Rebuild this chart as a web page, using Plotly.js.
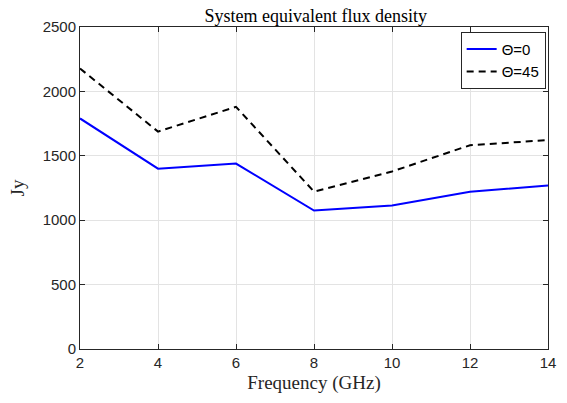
<!DOCTYPE html>
<html>
<head>
<script src="https://cdn.plot.ly/plotly-3.0.1.min.js"></script>
<style>html,body{margin:0;padding:0;background:#fff;}#chart{width:567px;height:403px;}</style>
</head>
<body>
<div id="chart"></div>
<script>
const freq = [2, 4, 6, 8, 10, 12, 14];
const sefdTheta0 = [1790, 1400, 1440, 1075, 1115, 1220, 1270];
const sefdTheta45 = [2178, 1688, 1880, 1222, 1378, 1582, 1622];
const seriesNames = ['Θ=0', 'Θ=45'];
const xTicks = [2, 4, 6, 8, 10, 12, 14];
const yTicks = [0, 500, 1000, 1500, 2000, 2500];

const axisCommon = {
  showline: true, linecolor: '#262626', linewidth: 1, mirror: 'allticks',
  ticks: 'inside', ticklen: 5, tickcolor: '#262626', tickwidth: 1,
  showgrid: true, gridcolor: '#e3e3e3', gridwidth: 1, zeroline: false,
  tickfont: {family: 'Liberation Sans, Arial, sans-serif', size: 15, color: '#262626'}
};

const data = [
  {x: freq, y: sefdTheta0, name: seriesNames[0], type: 'scatter', mode: 'lines',
   line: {color: '#0000ff', width: 2}},
  {x: freq, y: sefdTheta45, name: seriesNames[1], type: 'scatter', mode: 'lines',
   line: {color: '#000000', width: 2, dash: '7px,5px'}}
];

const layout = {
  width: 567, height: 403,
  margin: {l: 80, r: 19, t: 27, b: 54},
  paper_bgcolor: '#ffffff', plot_bgcolor: '#ffffff',
  title: {text: 'System equivalent flux density', x: 0.557, xanchor: 'center',
    yref: 'paper', y: 1, yanchor: 'bottom', pad: {b: 5},
    font: {family: 'Liberation Serif, Times New Roman, serif', size: 18, color: '#000'}},
  xaxis: Object.assign({}, axisCommon, {
    range: [2, 14], tickvals: xTicks, ticktext: xTicks.map(String),
    title: {text: 'Frequency (GHz)', standoff: 5,
      font: {family: 'Liberation Serif, Times New Roman, serif', size: 19, color: '#262626'}}
  }),
  yaxis: Object.assign({}, axisCommon, {
    range: [0, 2500], tickvals: yTicks, ticktext: yTicks.map(String),
    title: {text: 'Jy', standoff: 12,
      font: {family: 'Liberation Serif, Times New Roman, serif', size: 19, color: '#262626'}}
  }),
  legend: {x: 0.995, xanchor: 'right', y: 0.985, yanchor: 'top',
    bgcolor: '#ffffff', bordercolor: '#262626', borderwidth: 1,
    font: {family: 'Liberation Sans, Arial, sans-serif', size: 15, color: '#000'},
    tracegroupgap: 0, itemwidth: 30},
  showlegend: true
};

Plotly.newPlot('chart', data, layout, {displayModeBar: false, staticPlot: true});
</script>
</body>
</html>
